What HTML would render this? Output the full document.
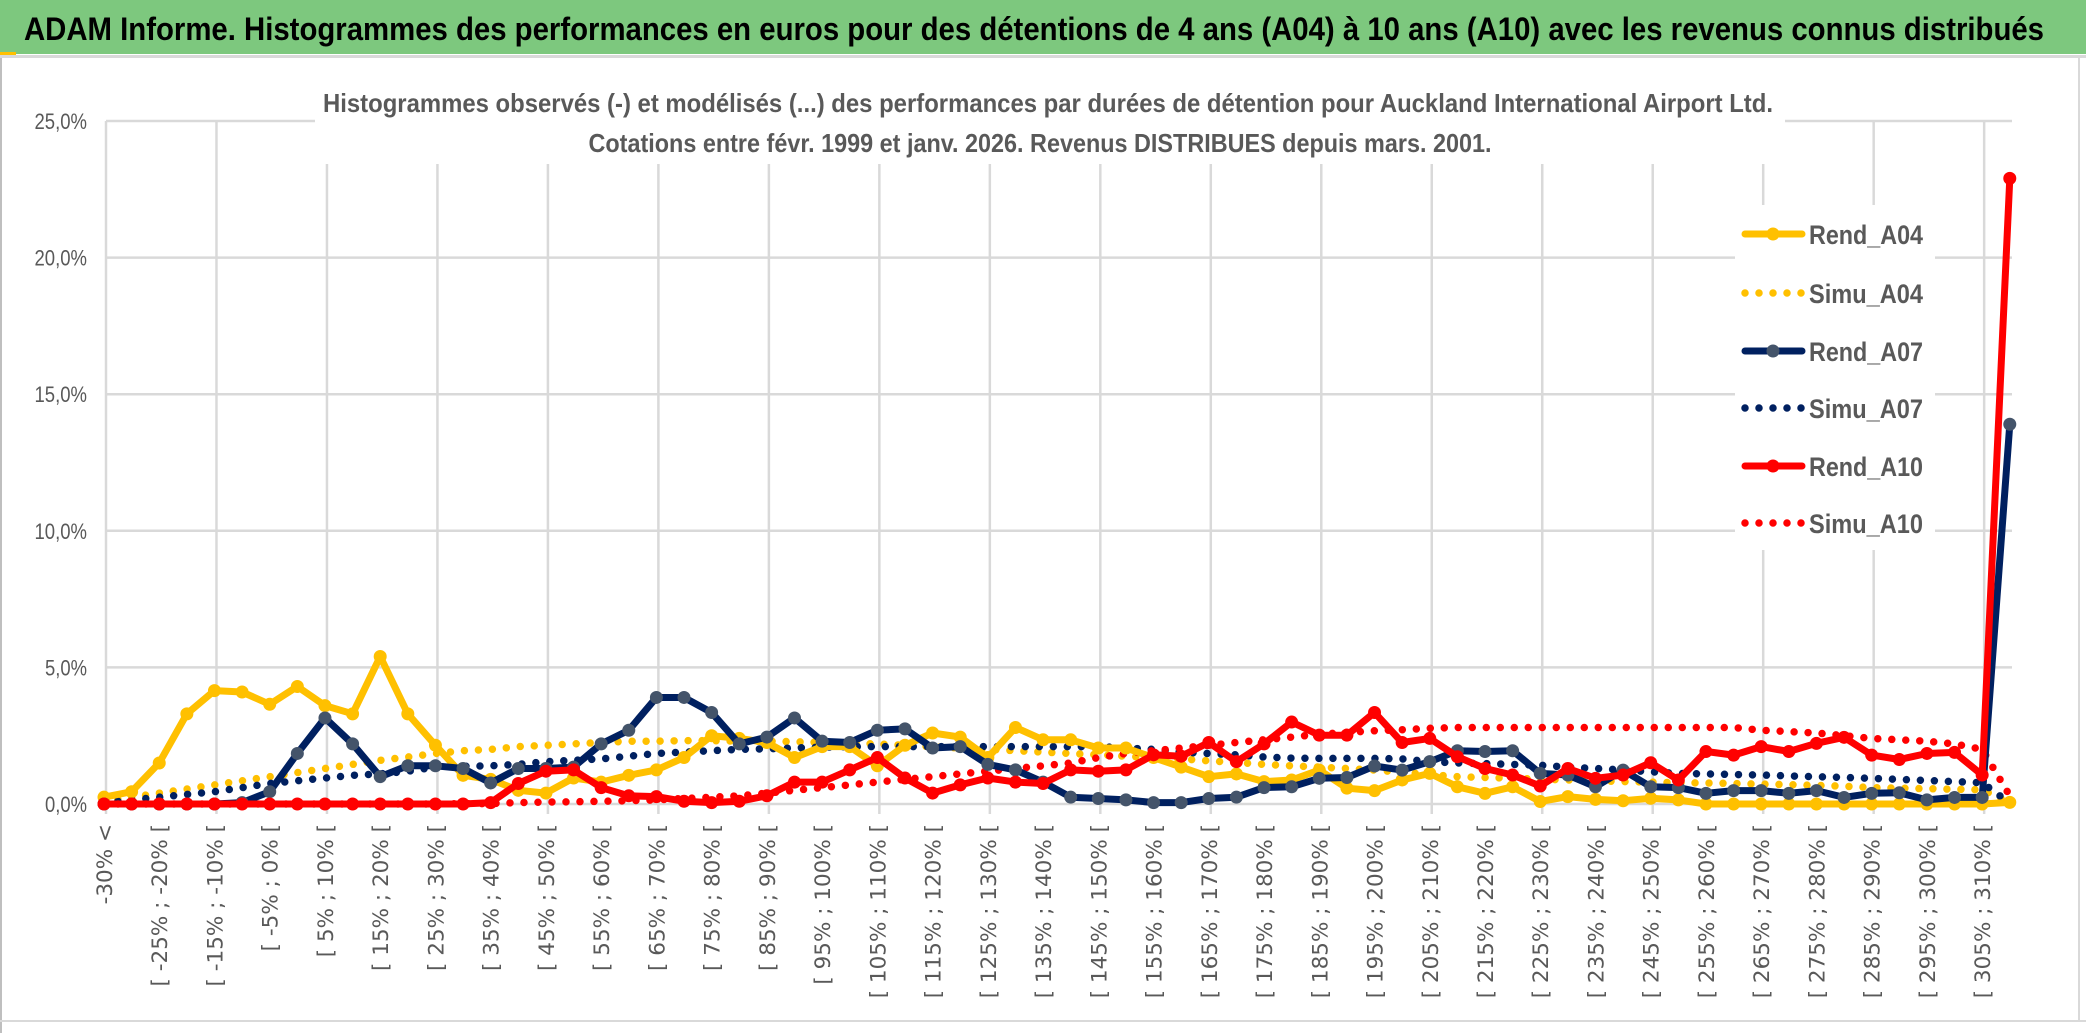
<!DOCTYPE html>
<html><head><meta charset="utf-8">
<style>
html,body{margin:0;padding:0;background:#fff;}
svg{display:block;}
text{font-family:"Liberation Sans",sans-serif;}
</style></head>
<body>
<svg id="chart" width="2086" height="1033" viewBox="0 0 2086 1033" xmlns="http://www.w3.org/2000/svg">
  <rect x="0" y="0" width="2086" height="1033" fill="#fff"/>
  <rect x="0" y="0" width="2086" height="54" fill="#7DC87E"/>
  <rect x="0" y="52" width="16" height="3" fill="#FFC000"/>
  <rect x="0" y="55" width="2086" height="3" fill="#D9D9D9"/>
  <text x="24" y="40" font-size="32" font-weight="bold" fill="#000" textLength="2020" lengthAdjust="spacingAndGlyphs">ADAM Informe. Histogrammes des performances en euros pour des détentions de 4 ans (A04) à 10 ans (A10) avec les revenus connus distribués</text>
  <rect x="0" y="58" width="2" height="975" fill="#BFBFBF"/>
  <rect x="0" y="1020" width="2086" height="2" fill="#D9D9D9"/>
  <rect x="2078" y="58" width="2" height="962" fill="#D9D9D9"/>
  <g id="grid"></g>
  <g id="yaxis"></g>
  <rect x="315" y="80" width="1470" height="84" fill="#fff"/>
  <text x="1048" y="112" text-anchor="middle" font-size="26" font-weight="bold" fill="#595959" textLength="1450" lengthAdjust="spacingAndGlyphs">Histogrammes observés (-) et modélisés (...) des performances par durées de détention pour Auckland International Airport Ltd.</text>
  <text x="1040" y="152" text-anchor="middle" font-size="26" font-weight="bold" fill="#595959" textLength="903" lengthAdjust="spacingAndGlyphs">Cotations entre févr. 1999 et janv. 2026. Revenus DISTRIBUES depuis mars. 2001.</text>
  <g id="xaxis"></g>
  <g id="series"></g>
  <g id="legend"></g>
</svg>
<script>
const categoryLabels = (function(){const a=["-30% <"];for(let v=-30;v<315;v+=5){a.push("[ "+v+"% ; "+(v+5)+"% [");}return a.slice(0,70);})();
const yTicks = [0,5,10,15,20,25];
const yTickLabels = ["0,0%","5,0%","10,0%","15,0%","20,0%","25,0%"];
const rendA04 = [0.25,0.45,1.5,3.3,4.15,4.1,3.65,4.3,3.6,3.3,5.4,3.3,2.15,1.05,
 0.9,0.5,0.4,0.95,0.8,1.05,1.25,1.7,2.5,2.4,2.25,1.7,2.1,2.1,
 1.4,2.15,2.6,2.45,1.7,2.8,2.35,2.35,2.05,2.05,1.7,1.35,1.0,1.1,
 0.82,0.88,1.24,0.58,0.49,0.88,1.12,0.63,0.39,0.63,0.09,0.27,0.17,0.12,0.21,
 0.15,0,0,0,0,0,0,0,0,0,0,0,0.06];
const simuA04 = [0.1,0.25,0.4,0.55,0.7,0.85,1.0,1.15,1.3,1.45,1.6,1.72,1.85,1.95,
 2.0,2.1,2.15,2.2,2.25,2.3,2.3,2.32,2.32,2.3,2.3,2.28,2.25,2.22,
 2.2,2.15,2.1,2.05,2.0,1.95,1.9,1.85,1.8,1.75,1.7,1.65,1.58,1.52,
 1.45,1.4,1.35,1.3,1.24,1.16,1.08,1.0,0.97,0.94,0.91,0.88,0.85,0.82,0.8,
 0.78,0.77,0.75,0.73,0.71,0.68,0.65,0.6,0.58,0.56,0.54,0.52,0.05];
const rendA07 = [0,0,0,0,0,0.05,0.45,1.85,3.15,2.2,1.0,1.4,1.4,1.3,
 0.77,1.3,1.3,1.35,2.2,2.7,3.9,3.9,3.35,2.2,2.45,3.15,2.3,2.25,
 2.7,2.75,2.05,2.1,1.45,1.25,0.8,0.25,0.2,0.15,0.05,0.05,0.2,0.25,
 0.6,0.63,0.94,0.97,1.39,1.24,1.55,1.95,1.92,1.95,1.12,1.06,0.63,1.24,0.63,
 0.6,0.39,0.49,0.49,0.39,0.49,0.24,0.39,0.41,0.15,0.24,0.24,13.9];
const simuA07 = [0.05,0.15,0.25,0.35,0.45,0.6,0.75,0.85,0.95,1.05,1.1,1.2,1.35,1.38,
 1.4,1.45,1.55,1.6,1.65,1.75,1.85,1.9,1.95,2.0,2.02,2.05,2.08,2.1,
 2.1,2.1,2.1,2.1,2.1,2.1,2.1,2.1,2.1,2.05,2.0,1.9,1.85,1.8,
 1.72,1.68,1.67,1.67,1.67,1.65,1.55,1.5,1.48,1.45,1.42,1.35,1.3,1.25,1.18,
 1.12,1.1,1.08,1.06,1.03,1.0,0.97,0.94,0.9,0.86,0.82,0.78,0.03];
const rendA10 = [0,0,0,0,0,0,0,0,0,0,0,0,0,0,
 0.05,0.75,1.2,1.25,0.6,0.3,0.27,0.1,0.05,0.1,0.3,0.8,0.8,1.25,
 1.7,0.95,0.4,0.7,0.95,0.8,0.75,1.25,1.2,1.25,1.8,1.75,2.25,1.55,
 2.2,3.0,2.52,2.52,3.35,2.25,2.4,1.73,1.3,1.06,0.66,1.3,0.94,1.06,1.51,
 0.88,1.92,1.79,2.1,1.92,2.22,2.44,1.79,1.63,1.85,1.89,1.06,22.9];
const simuA10 = [0,0,0,0,0,0,0,0,0,0,0,0,0,0.01,
 0.02,0.05,0.07,0.08,0.1,0.12,0.15,0.2,0.25,0.3,0.4,0.5,0.6,0.7,
 0.8,0.9,1.0,1.1,1.2,1.3,1.4,1.5,1.7,1.85,1.95,2.05,2.15,2.25,
 2.35,2.45,2.55,2.62,2.68,2.72,2.77,2.8,2.8,2.8,2.8,2.8,2.8,2.8,2.8,
 2.8,2.8,2.8,2.7,2.65,2.6,2.5,2.4,2.35,2.3,2.2,2.0,0.3];

const NS="http://www.w3.org/2000/svg";
const X0=104, XSTEP=27.62, Y0=804, YPER=27.32, PLOT_RIGHT=2012;
function xs(i){return X0+i*XSTEP;}
function ys(v){return Y0-v*YPER;}
function mk(tag,attrs,parent){const e=document.createElementNS(NS,tag);for(const k in attrs)e.setAttribute(k,attrs[k]);parent.appendChild(e);return e;}

const grid=document.getElementById('grid');
yTicks.forEach((t,k)=>{
  const l=mk('line',{x1:106,x2:PLOT_RIGHT,y1:ys(t),y2:ys(t),stroke:'#D9D9D9','stroke-width':2.5},grid);
  
  
});
for(let i=0;i<categoryLabels.length;i+=4){
  const l=mk('line',{x1:xs(i)+2,x2:xs(i)+2,y1:ys(25),y2:ys(0)+10,stroke:'#D9D9D9','stroke-width':2.5},grid);
  
  
}
const yaxis=document.getElementById('yaxis');
yTicks.forEach((t,k)=>{
  const tx=mk('text',{x:87,y:ys(t)+8,'text-anchor':'end','font-size':22,fill:'#595959',textLength:yTickLabels[k].length*10.5,lengthAdjust:'spacingAndGlyphs'},yaxis);
  tx.textContent=yTickLabels[k];
  
  
});
const xaxis=document.getElementById('xaxis');
categoryLabels.forEach((c,i)=>{
  if(i%2!==0)return;
  const x=xs(i)+8, y=824;
  const tx=mk('text',{x:x,y:y,'text-anchor':'end','font-size':21.5,fill:'#595959',transform:'rotate(-90 '+x+' '+y+')',style:'font-family:"DejaVu Sans",sans-serif'},xaxis);
  tx.textContent=c;
  
  
});

const series=document.getElementById('series');
function pts(arr){return arr.map((v,i)=>xs(i).toFixed(1)+','+ys(v).toFixed(1)).join(' ');}
function dotted(arr,color,name){
  const p=mk('polyline',{points:pts(arr),fill:'none',stroke:color,'stroke-width':7.5,'stroke-linecap':'round','stroke-dasharray':'0 14'},series);
  
  
}
function solid(arr,color,mcolor,name){
  const g=mk('g',{},series);
  
  
  const p=mk('polyline',{points:pts(arr),fill:'none',stroke:color,'stroke-width':7,'stroke-linejoin':'round'},g);
  
  
  arr.forEach((v,i)=>{
    const c=mk('circle',{cx:xs(i),cy:ys(v),r:6.5,fill:mcolor},g);
    
    
  });
}
dotted(simuA04,'#FFC000','simu-a04');
dotted(simuA07,'#002060','simu-a07');
dotted(simuA10,'#FF0000','simu-a10');
solid(rendA04,'#FFC000','#FFC000','rend-a04');
solid(rendA07,'#002060','#44546A','rend-a07');
solid(rendA10,'#FF0000','#FF0000','rend-a10');

const legend=document.getElementById('legend');
const legendNames=["Rend_A04","Simu_A04","Rend_A07","Simu_A07","Rend_A10","Simu_A10"];
const legendColors=["#FFC000","#FFC000","#002060","#002060","#FF0000","#FF0000"];
const legendY=[234,293,351,408,466,523];
mk('rect',{x:1735,y:205,width:200,height:345,fill:'#fff'},legend);
legendNames.forEach((n,k)=>{
  const y=legendY[k], solidLine=n.startsWith('Rend');
  const l=mk('line',{x1:1745,x2:1802,y1:y,y2:y,stroke:legendColors[k],'stroke-width':solidLine?7:7.5,'stroke-linecap':'round','stroke-dasharray':solidLine?'none':'0 14'},legend);
  
  
  if(solidLine){
    const c=mk('circle',{cx:1773,cy:y,r:6.5,fill:k===2?'#44546A':legendColors[k]},legend);
    
    
  }
  const t=mk('text',{x:1809,y:y+10,'font-size':27,'font-weight':'bold',fill:'#595959',textLength:114,lengthAdjust:'spacingAndGlyphs'},legend);
  t.textContent=n;
  
  
});
</script>
</body></html>
